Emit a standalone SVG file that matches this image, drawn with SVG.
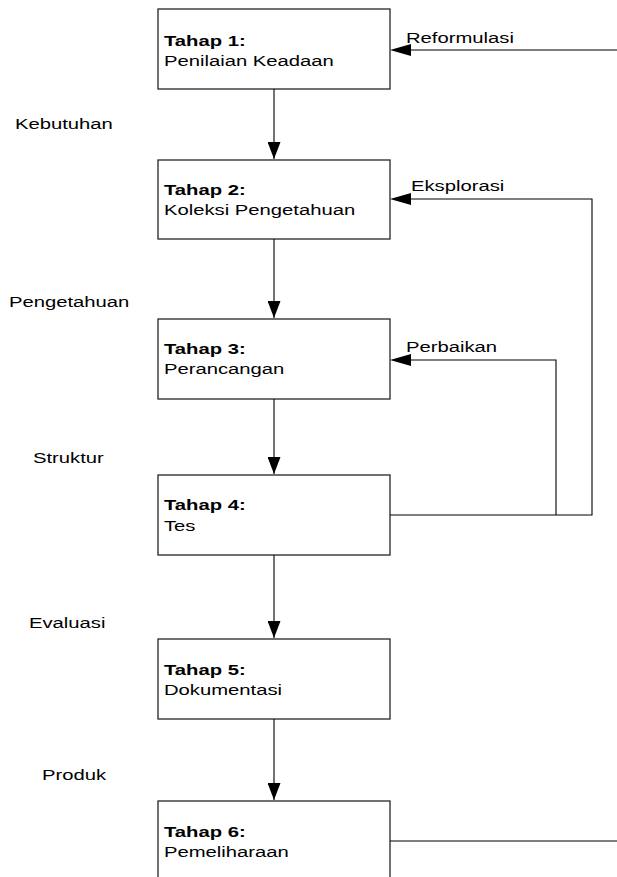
<svg xmlns="http://www.w3.org/2000/svg" width="617" height="877" viewBox="0 0 617 877">
<style>
.box{fill:#fff;stroke:#262626;stroke-width:1.3}
.ln{fill:none;stroke:#000;stroke-width:1.1}
text{font-family:"Liberation Sans",Arial,sans-serif;font-size:15px;fill:#000}
.b{font-weight:bold}
</style>
<defs>
<marker id="av" markerUnits="userSpaceOnUse" markerWidth="18" markerHeight="13" refX="17" refY="6.5" orient="auto" viewBox="0 0 18 13">
<path d="M0,0 L17,6.5 L0,13 Z" fill="#000"/>
</marker>
</defs>
<g id="node1">
<rect class="box" x="158" y="9" width="232" height="80"/>
<text class="b" transform="translate(164,46) scale(1.35,1)">Tahap 1:</text>
<text transform="translate(164,66) scale(1.35,1)">Penilaian Keadaan</text>
</g>
<g id="node2">
<rect class="box" x="158" y="160" width="232" height="79"/>
<text class="b" transform="translate(164,195) scale(1.35,1)">Tahap 2:</text>
<text transform="translate(164,215) scale(1.35,1)">Koleksi Pengetahuan</text>
</g>
<g id="node3">
<rect class="box" x="158" y="319" width="232" height="80"/>
<text class="b" transform="translate(164,354) scale(1.35,1)">Tahap 3:</text>
<text transform="translate(164,374) scale(1.35,1)">Perancangan</text>
</g>
<g id="node4">
<rect class="box" x="158" y="475" width="232" height="80"/>
<text class="b" transform="translate(164,510) scale(1.35,1)">Tahap 4:</text>
<text transform="translate(164,531) scale(1.35,1)">Tes</text>
</g>
<g id="node5">
<rect class="box" x="158" y="639" width="232" height="80"/>
<text class="b" transform="translate(164,675) scale(1.35,1)">Tahap 5:</text>
<text transform="translate(164,695) scale(1.35,1)">Dokumentasi</text>
</g>
<g id="node6">
<rect class="box" x="158" y="801" width="232" height="82"/>
<text class="b" transform="translate(164,837) scale(1.35,1)">Tahap 6:</text>
<text transform="translate(164,857) scale(1.35,1)">Pemeliharaan</text>
</g>
<g id="connectors">
<path class="ln" d="M274,89 V159" marker-end="url(#av)"/>
<path class="ln" d="M274,239 V318" marker-end="url(#av)"/>
<path class="ln" d="M274,399 V474" marker-end="url(#av)"/>
<path class="ln" d="M274,555 V638" marker-end="url(#av)"/>
<path class="ln" d="M274,719 V800" marker-end="url(#av)"/>
<path class="ln" d="M617,50 H411"/>
<path d="M390,50 L411,44 L411,56 Z" fill="#000"/>
<path class="ln" d="M390,515 H592 V199 H411"/>
<path d="M390,199 L411,193 L411,205 Z" fill="#000"/>
<path class="ln" d="M556,515 V360 H411"/>
<path d="M390,360 L411,354 L411,366 Z" fill="#000"/>
<path class="ln" d="M390,841 H617"/>
</g>
<g id="labels">
<text transform="translate(406,43) scale(1.35,1)">Reformulasi</text>
<text transform="translate(411,191) scale(1.35,1)">Eksplorasi</text>
<text transform="translate(406,352) scale(1.35,1)">Perbaikan</text>
<text transform="translate(15,129) scale(1.35,1)">Kebutuhan</text>
<text transform="translate(9,307) scale(1.35,1)">Pengetahuan</text>
<text transform="translate(33,463) scale(1.35,1)">Struktur</text>
<text transform="translate(29,628) scale(1.35,1)">Evaluasi</text>
<text transform="translate(42,780) scale(1.35,1)">Produk</text>
</g>
</svg>
